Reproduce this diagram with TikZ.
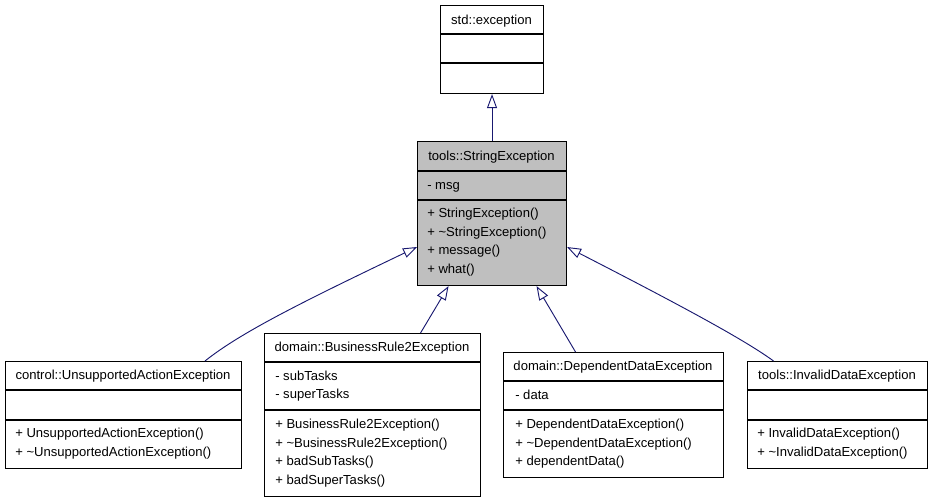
\documentclass[tikz,border=0pt]{standalone}
\usepackage{fontspec}
\setmainfont{Liberation Sans}
\usetikzlibrary{arrows.meta,calc}
\definecolor{edgeblue}{RGB}{25,25,112}
\definecolor{boxgray}{RGB}{191,191,191}
\tikzset{
  clsbox/.style={draw=black, line width=0.8pt, inner sep=0pt, anchor=north west},
  divline/.style={draw=black, line width=0.8pt},
  txt/.style={inner sep=0pt, font=\fontsize{9.8pt}{11pt}\selectfont, anchor=base west},
  ttl/.style={inner sep=0pt, font=\fontsize{9.8pt}{11pt}\selectfont, anchor=base},
  inherit/.style={draw=edgeblue, line width=0.7pt, -{Triangle[open, length=10.5pt, width=7.5pt]}}
}
\begin{document}
\begin{tikzpicture}[x=0.75pt,y=-0.75pt]
\useasboundingbox (0,0) rectangle (931,501);
% std::exception
\node[clsbox, minimum width=77.25pt, minimum height=66pt] (A) at (440,5) {};
\draw[divline] (440,34) -- (543,34);
\draw[divline] (440,63) -- (543,63);
\node[ttl] (At) at (491.5,24) {std::exception};
% tools::StringException
\node[clsbox, fill=boxgray, minimum width=111.75pt, minimum height=108pt] (B) at (417,141) {};
\draw[divline] (417,171) -- (566,171);
\draw[divline] (417,200) -- (566,200);
\node[ttl] (Bt) at (491.5,160) {tools::StringException};
\node[txt] (Ba1) at (427,189) {- msg};
\node[txt] (Bm1) at (427,217.5) {+ StringException()};
\node[txt] (Bm2) at (427,236) {+ \textasciitilde StringException()};
\node[txt] (Bm3) at (427,254.5) {+ message()};
\node[txt] (Bm4) at (427,273) {+ what()};
% control::UnsupportedActionException
\node[clsbox, minimum width=177pt, minimum height=80.25pt] (C) at (5,361) {};
\draw[divline] (5,390) -- (241,390);
\draw[divline] (5,420) -- (241,420);
\node[ttl] (Ct) at (123,379) {control::UnsupportedActionException};
\node[txt] (Cm1) at (15,437.5) {+ UnsupportedActionException()};
\node[txt] (Cm2) at (15,456) {+ \textasciitilde UnsupportedActionException()};
% domain::BusinessRule2Exception
\node[clsbox, minimum width=162pt, minimum height=122.25pt] (D) at (264,333) {};
\draw[divline] (264,362) -- (480,362);
\draw[divline] (264,410) -- (480,410);
\node[ttl] (Dt) at (372,351) {domain::BusinessRule2Exception};
\node[txt] (Da1) at (275,380) {- subTasks};
\node[txt] (Da2) at (275,398.5) {- superTasks};
\node[txt] (Dm1) at (275,428.5) {+ BusinessRule2Exception()};
\node[txt] (Dm2) at (275,447) {+ \textasciitilde BusinessRule2Exception()};
\node[txt] (Dm3) at (275,465.5) {+ badSubTasks()};
\node[txt] (Dm4) at (275,484) {+ badSuperTasks()};
% domain::DependentDataException
\node[clsbox, minimum width=165pt, minimum height=93.75pt] (E) at (503,352) {};
\draw[divline] (503,381) -- (723,381);
\draw[divline] (503,410) -- (723,410);
\node[ttl] (Et) at (613,370) {domain::DependentDataException};
\node[txt] (Ea1) at (515,399.5) {- data};
\node[txt] (Em1) at (515,428.5) {+ DependentDataException()};
\node[txt] (Em2) at (515,447) {+ \textasciitilde DependentDataException()};
\node[txt] (Em3) at (515,465.5) {+ dependentData()};
% tools::InvalidDataException
\node[clsbox, minimum width=135pt, minimum height=80.25pt] (F) at (747,361) {};
\draw[divline] (747,390) -- (927,390);
\draw[divline] (747,420) -- (927,420);
\node[ttl] (Ft) at (837,379) {tools::InvalidDataException};
\node[txt] (Fm1) at (757,437.5) {+ InvalidDataException()};
\node[txt] (Fm2) at (757,456) {+ \textasciitilde InvalidDataException()};
% inheritance connectors
\draw[inherit] (B.north) -- (A.south);
\draw[inherit] ($(C.north west)+(200,0)$) .. controls (240,333) and (300,303) .. ($(B.north west)+(0,106)$);
\draw[inherit] ($(D.north)+(48,0)$) -- ($(B.south)+(-43.5,0)$);
\draw[inherit] ($(E.north)+(-38,0)$) -- ($(B.south)+(44.5,0)$);
\draw[inherit] ($(F.north)+(-64,0)$) .. controls (745,340) and (680,305) .. ($(B.north east)+(0,106)$);
\end{tikzpicture}
\end{document}
